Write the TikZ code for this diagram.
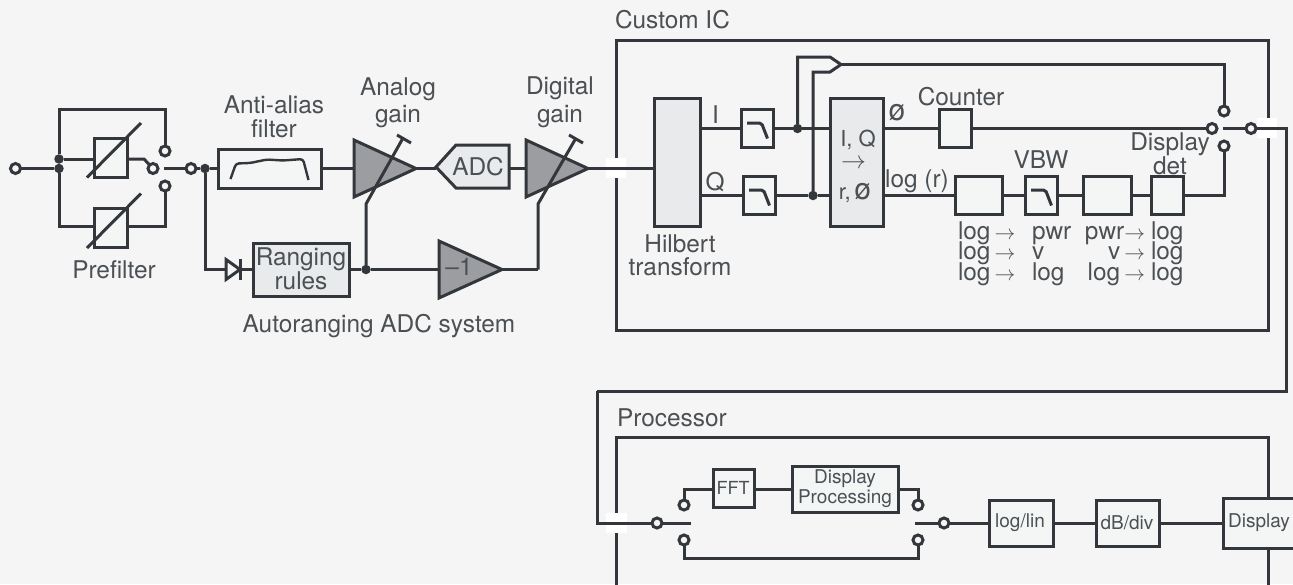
\documentclass[tikz,border=0pt]{standalone}
\usepackage{fontspec}
\setmainfont{TeX Gyre Heros}
\usepackage{tikz}
\usetikzlibrary{calc}

\definecolor{inkline}{HTML}{33373C}
\definecolor{inktext}{HTML}{4B5054}
\definecolor{pagegray}{HTML}{F5F5F5}
\definecolor{boxlight}{HTML}{F4F6F6}
\definecolor{boxshade}{HTML}{E8EAEB}
\definecolor{ampgray}{HTML}{9C9DA1}

\tikzset{
  wire/.style={draw=inkline,line width=3pt,line join=miter},
  label/.style={text=inktext,inner sep=0pt,outer sep=0pt,align=center,font=\fontsize{24.4}{24}\selectfont},
  smalllabel/.style={text=inktext,inner sep=0pt,outer sep=0pt,align=center,font=\fontsize{19}{21}\selectfont},
  rowlabel/.style={text=inktext,inner sep=0pt,outer sep=0pt,font=\fontsize{24.4}{24}\selectfont},
  blockbox/.style={draw=inkline,line width=3pt,fill=boxlight,inner sep=0pt,outer sep=0pt},
  shadebox/.style={blockbox,fill=boxshade},
  terminal/.style={circle,draw=inkline,line width=3pt,fill=pagegray,minimum size=10pt,inner sep=0pt,outer sep=0pt},
  junction/.style={circle,fill=inkline,minimum size=9.5pt,inner sep=0pt,outer sep=0pt},
  amp/.style={wire,fill=ampgray},
  patch/.style={fill=white,draw=none}
}

\newcommand{\rowarrow}{{\fontsize{20}{20}\selectfont$\rightarrow$}}

\begin{document}
\begin{tikzpicture}[x=1pt,y=-1pt]

\useasboundingbox (0,0) rectangle (1293,584);
\fill [pagegray] (0,0) rectangle (1293,584);

% frames
\draw [wire] (616,40) rectangle (1268,330);
\draw [wire] (616,590) -- (616,437) -- (1268,437) -- (1268,590);
\fill [patch] (606,158) rectangle (626,178);
\fill [patch] (1257,118) rectangle (1277,138);
\fill [patch] (606,513) rectangle (627,533);

% prefilter
\node [terminal] (tin) at (15.5,168.5) {};
\node [junction] (jlow) at (59,168.5) {};
\node [junction] (jup) at (59,159) {};
\node [blockbox,minimum width=33pt,minimum height=39pt] (preup) at (110.5,157.5) {};
\node [blockbox,minimum width=33pt,minimum height=39pt] (predown) at (110.5,228) {};
\node [terminal] (tpreup) at (165,151) {};
\node [terminal] (tpremid) at (153,168.5) {};
\node [terminal] (tpredown) at (165,186) {};
\node [terminal] (tpreout) at (191,168.5) {};
\node [junction] (jout) at (205,168.5) {};
\coordinate (armpre) at (164,168.5);
\coordinate (railtop) at (59,109);
\coordinate (railbot) at (59,226);
\coordinate (kink) at (144,159);

\draw [wire] (tin) -- (jlow);
\draw [wire] (jup) -- (railtop) -| (tpreup);
\draw [wire] (jlow) -- (railbot) -- (railbot -| predown.west);
\draw [wire] (jup) -- (jup -| preup.west);
\draw [wire] (jup -| preup.east) -- (kink) -- (tpremid);
\draw [wire] (railbot -| predown.east) -| (tpredown);
\draw [wire] (armpre) -- (tpreout) -- (jout);
\draw [wire] (87,177.5) -- (141,123);
\draw [wire] (87,248) -- (141,193.5);
\node [label] (prefiltertxt) at (114,270) {Prefilter};

% anti-alias filter and gain chain
\node [blockbox,minimum width=103pt,minimum height=39pt] (aafilter) at (269.5,168.5) {};
\draw [wire,rounded corners=3pt,line width=2.4pt] (230.5,179) -- (236,163.5) -- (250,163) -- (267,159.5) -- (283,160.5) -- (303,159) -- (308.5,180);
\node [label] (aatxt) at (274,116.5) {Anti-alias\\filter};
\coordinate (againin) at (354,168.5);
\coordinate (againout) at (416,168.5);
\coordinate (adctip) at (436,168.5);
\coordinate (adcback) at (509,168.5);
\coordinate (dgainin) at (526,168.5);
\coordinate (dgainout) at (588,168.5);
\draw [amp] (354,140) -- (416,168.5) -- (354,197) -- cycle;
\draw [amp] (526,140) -- (588,168.5) -- (526,197) -- cycle;
\draw [wire,fill=boxshade] (436,167) -- (456,145) -- (509,145) -- (509,188) -- (456,188) -- cycle;
\node [label] (adctxt) at (478,167) {ADC};
\draw [wire] (jout) -- (aafilter);
\draw [wire] (aafilter) -- (againin);
\draw [wire] (againout) -- (adctip);
\draw [wire] (adcback) -- (dgainin);
\node [label,font=\fontsize{24.4}{27}\selectfont] (againtxt) at (398,103) {Analog\\gain};
\node [label,font=\fontsize{24.4}{28}\selectfont] (dgaintxt) at (560,102) {Digital\\gain};

% autoranging loop
\node [shadebox,minimum width=95.5pt,minimum height=53pt] (ranging) at (301.25,269.5) {};
\node [label,font=\fontsize{24.4}{23}\selectfont] (rangingtxt) at (301,269) {Ranging\\rules};
\node [junction] (jrange) at (366,269.5) {};
\coordinate (diodein) at (226,269.5);
\coordinate (diodeout) at (240,269.5);
\coordinate (invin) at (439,269.5);
\coordinate (invout) at (502,269.5);
\coordinate (dgaincorner) at (538,269.5);
\draw [wire] (jout) |- (diodein);
\draw [wire,fill=pagegray] (226,259.5) -- (240,269.5) -- (226,279.5) -- cycle;
\draw [wire] (240,259) -- (240,280);
\draw [wire] (diodeout) -- (ranging);
\draw [amp] (439,241) -- (502,269.5) -- (439,298) -- cycle;
\node [label] (invtxt) at (459,267) {\textendash1};
\draw [wire] (ranging) -- (jrange) -- (invin);
\draw [wire] (invout) -- (dgaincorner);
\draw [wire] (jrange) -- (366,204) -- (403,138);
\draw [wire] (397,135) -- (411,143);
\draw [wire] (dgaincorner) -- (538,204) -- (576,138);
\draw [wire] (569,135) -- (583,143);
\node [label] (autotxt) at (379,326) {Autoranging ADC system};

% custom IC
\node [label,anchor=west] (ictxt) at (615,20) {Custom IC};
\node [shadebox,minimum width=46pt,minimum height=128pt] (hilbert) at (677,162) {};
\draw [wire] (dgainout) -- (hilbert.west |- dgainout);
\node [label,font=\fontsize{24.4}{23}\selectfont] (hilberttxt) at (680,255.5) {Hilbert\\transform};
\node [blockbox,minimum width=32pt,minimum height=38pt] (lpi) at (757,128.5) {};
\node [blockbox,minimum width=32pt,minimum height=38pt] (lpq) at (759,195.5) {};
\node [junction] (ji) at (797.5,128.5) {};
\node [junction] (jq) at (813,195.5) {};
\node [shadebox,minimum width=53pt,minimum height=128pt] (iqblock) at (856.5,162) {};
\node [label] (itxt) at (715.5,115) {I};
\node [label] (qtxt) at (715,182) {Q};
\node [label,font=\fontsize{22}{24}\selectfont] (iqtxt) at (858,140) {I, Q};
\node [label,font=\fontsize{25}{25}\selectfont] (arrowtxt) at (853.5,163.5) {$\rightarrow$};
\node [label,font=\fontsize{22}{24}\selectfont] (rphitxt) at (855,193) {r,\,{\fontsize{30}{30}\selectfont ø}};
\node [label,font=\fontsize{30}{30}\selectfont] (phitxt) at (897,112.5) {ø};
\node [label] (logrtxt) at (917,181) {log (r)};
\coordinate (mergetip) at (841,64.5);
\coordinate (mergeup) at (830,57);
\coordinate (mergedn) at (830,72);
\draw [wire] (hilbert.east |- lpi) -- (lpi);
\draw [wire] (lpi) -- (ji) -- (iqblock.west |- lpi);
\draw [wire] (hilbert.east |- lpq) -- (lpq);
\draw [wire] (lpq) -- (jq) -- (iqblock.west |- lpq);
\draw [wire] (ji) |- (mergeup) -- (mergetip);
\draw [wire] (jq) |- (mergedn) -- (mergetip);

\node [blockbox,minimum width=32pt,minimum height=38pt] (counter) at (955,128.5) {};
\node [label] (countertxt) at (961,97) {Counter};
\node [blockbox,minimum width=47pt,minimum height=38pt] (logbox) at (978.5,195.5) {};
\node [blockbox,minimum width=32pt,minimum height=38pt] (lpv) at (1041,195.5) {};
\node [label] (vbwtxt) at (1041,160) {VBW};
\node [blockbox,minimum width=48pt,minimum height=38pt] (pwrbox) at (1107,195.5) {};
\node [blockbox,minimum width=32pt,minimum height=38pt] (detbox) at (1167,195.5) {};
\node [label,font=\fontsize{24.4}{23}\selectfont] (dettxt) at (1170,153.5) {Display\\det};
\node [terminal] (tsel) at (1212,128.5) {};
\node [terminal] (tselup) at (1224,111) {};
\node [terminal] (tseldown) at (1224,146) {};
\node [terminal] (tselout) at (1251,128.5) {};
\coordinate (armsel) at (1223,128.5);
\coordinate (outright) at (1286,128.5);
\coordinate (outbottom) at (1286,391);
\coordinate (outleft) at (597,391);
\draw [wire] (iqblock.east |- counter) -- (counter);
\draw [wire] (counter) -- (tsel);
\draw [wire] (mergetip) -| (tselup);
\draw [wire] (iqblock.east |- logbox) -- (logbox);
\draw [wire] (logbox) -- (lpv);
\draw [wire] (lpv) -- (pwrbox);
\draw [wire] (pwrbox) -- (detbox);
\draw [wire] (detbox) -| (tseldown);
\draw [wire] (armsel) -- (tselout) -- (outright) -- (outbottom) -- (outleft);

\foreach \f in {lpi,lpq,lpv}
{
\draw [wire,rounded corners=2pt] ($(\f.center)+(-10,-5.5)$) -- ($(\f.center)+(4.5,-5.5)$) -- ($(\f.center)+(10.5,10)$);
}

% row labels under the detector path
\foreach \n/\r/\b/\c in {a/239/pwr/pwr,b/259.5/v/v\,,c/280/log/log\,}
{
\node [rowlabel,anchor=base west] (lt\n) at (958,\r) {log\,\rowarrow};
\node [rowlabel,anchor=base west] (mid\n) at (1032,\r) {\b};
\node [rowlabel,anchor=base east] (pwr\n) at (1145,\r) {\c\rowarrow};
\node [rowlabel,anchor=base west] (rt\n) at (1151,\r) {log};
}

% processor
\node [label,anchor=west] (proctxt) at (617,418) {Processor};
\node [terminal] (tprocin) at (657,523) {};
\node [terminal] (tprocup) at (684,505) {};
\node [terminal] (tprocdown) at (684,540) {};
\node [blockbox,minimum width=41pt,minimum height=38pt] (fft) at (733.5,488) {};
\node [blockbox,minimum width=106pt,minimum height=46pt] (dispproc) at (845,489) {};
\node [smalllabel,font=\fontsize{18}{18}\selectfont] (ffttxt) at (733,488) {FFT};
\node [smalllabel,font=\fontsize{19}{20}\selectfont] (dispproctxt) at (845,488.5) {Display\\Processing};
\node [terminal] (tprocupr) at (918,505) {};
\node [terminal] (tprocdownr) at (918,540) {};
\node [terminal] (tprocout) at (944,523) {};
\node [blockbox,minimum width=64pt,minimum height=46pt] (loglin) at (1021,523) {};
\node [blockbox,minimum width=63pt,minimum height=46pt] (dbdiv) at (1127.5,523) {};
\node [blockbox,minimum width=74pt,minimum height=50pt] (display) at (1260,523) {};
\node [smalllabel] (loglintxt) at (1020,523) {log/lin};
\node [smalllabel] (dbdivtxt) at (1127,523) {dB/div};
\node [smalllabel] (displaytxt) at (1259,523) {Display};
\coordinate (armin) at (691,523);
\coordinate (armout) at (915,523);
\coordinate (lowrun) at (684,558);
\coordinate (upl) at (684,489);
\coordinate (upr) at (918,489);
\draw [wire] (outleft) |- (tprocin) -- (armin);
\draw [wire] (tprocup) -- (upl) -- (fft.west |- upl);
\draw [wire] (fft.east |- upl) -- (dispproc.west |- upl);
\draw [wire] (dispproc.east |- upr) -- (upr) -- (tprocupr);
\draw [wire] (tprocdown) -- (lowrun) -| (tprocdownr);
\draw [wire] (armout) -- (tprocout) -- (loglin);
\draw [wire] (loglin) -- (dbdiv);
\draw [wire] (dbdiv) -- (display);

\end{tikzpicture}
\end{document}
